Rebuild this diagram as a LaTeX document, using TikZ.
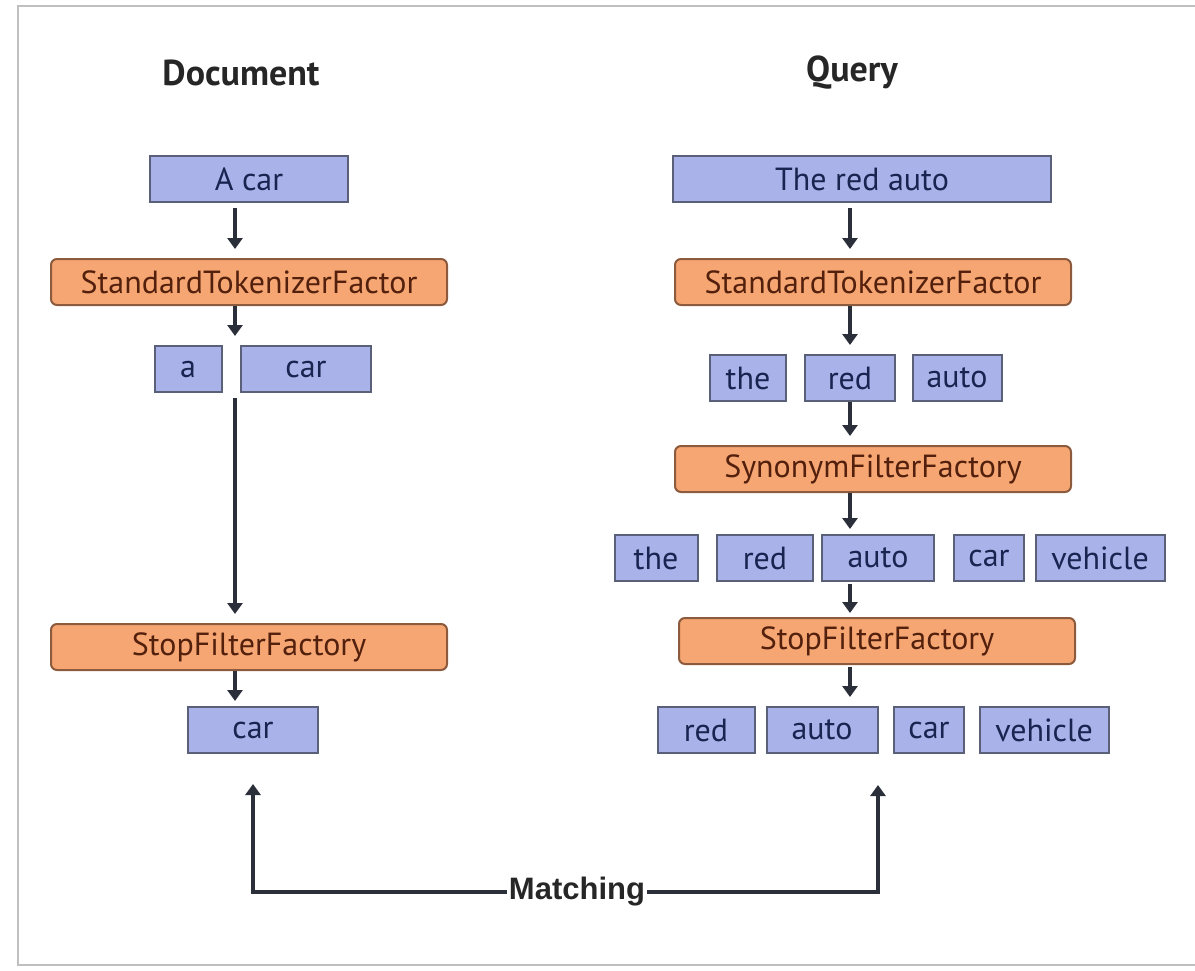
\documentclass[tikz,border=0pt]{standalone}
\usepackage{fontspec}
\setmainfont{PT Sans}
\newfontfamily\arialfont{Liberation Sans}
\usetikzlibrary{positioning,calc,arrows.meta}
\definecolor{tokfill}{HTML}{A9B3EA}
\definecolor{tokdraw}{HTML}{5A6078}
\definecolor{toktext}{HTML}{1A2450}
\definecolor{facfill}{HTML}{F6A672}
\definecolor{facdraw}{HTML}{8C5A3C}
\definecolor{factext}{HTML}{52200C}
\definecolor{arrcol}{HTML}{2B2F3A}

\begin{document}
\begin{tikzpicture}[
  x=1pt, y=-1pt,
  tok/.style={draw=tokdraw, fill=tokfill, line width=2pt, inner sep=0pt,
    minimum height=46pt, text=toktext, font=\fontsize{32}{34}\selectfont},
  fac/.style={draw=facdraw, fill=facfill, rounded corners=6pt, line width=2pt,
    minimum width=396pt, minimum height=46pt, inner sep=0pt, text=factext,
    font=\fontsize{32}{34}\selectfont},
  arr/.style={-{Triangle[length=11pt,width=15pt]}, line width=3.2pt, arrcol,
    shorten <=5pt, shorten >=9pt},
  ttl/.style={font=\bfseries\fontsize{36}{38}\selectfont, text=black!85}
]
\useasboundingbox (0,0) rectangle (1195,970);
\draw[black!25, line width=2pt] (1195,6) -- (18,6) -- (18,965) -- (1195,965);

% ---- Document (left) ----
\node[ttl] (dtitle) at (241,73) {Document};

\node[tok, minimum width=198pt] (dacar) at (249,179) {A car};
\node[fac] (dstd) at (249,282) {StandardTokenizerFactor};
\node[tok, minimum width=67pt] (da) at (188,369) {a};
\node[tok, minimum width=130pt] (dcar) at (306,369) {car};
\node[fac] (dstop) at (249,647) {StopFilterFactory};
\node[tok, minimum width=130pt] (dres) at (253,730) {car};

\coordinate (dx) at (235,0);
\draw[arr] (dacar.south -| dx) -- (dstd.north -| dx);
\draw[arr, shorten <=0pt] (dstd.south -| dx) -- (da.north -| dx);
\draw[arr] (da.south -| dx) -- (dstop.north -| dx);
\draw[arr, shorten <=0pt, shorten >=5pt] (dstop.south -| dx) -- (dres.north -| dx);

% ---- Query (right) ----
\node[ttl] (qtitle) at (852,73) {Query};

\node[tok, minimum width=378pt] (qtext) at (862,179) {The red auto};
\node[fac] (qstd) at (873,282) {StandardTokenizerFactor};
\node[tok, minimum width=76pt] (qthe1) at (748,378) {the};
\node[tok, minimum width=90pt] (qred1) at (850,378) {red};
\node[tok, minimum width=89pt] (qauto1) at (957,378) {auto};
\node[fac] (qsyn) at (873,469) {SynonymFilterFactory};
\node[tok, minimum width=83pt] (qthe2) at (656,558) {the};
\node[tok, minimum width=96pt] (qred2) at (765,558) {red};
\node[tok, minimum width=112pt] (qauto2) at (878,558) {auto};
\node[tok, minimum width=70pt] (qcar2) at (989,558) {car};
\node[tok, minimum width=129pt] (qveh2) at (1100,558) {vehicle};
\node[fac] (qstop) at (877,641) {StopFilterFactory};
\node[tok, minimum width=97pt] (qred3) at (706,730) {red};
\node[tok, minimum width=111pt] (qauto3) at (822,730) {auto};
\node[tok, minimum width=70pt] (qcar3) at (929,730) {car};
\node[tok, minimum width=129pt] (qveh3) at (1044,730) {vehicle};

\coordinate (qx) at (850,0);
\draw[arr] (qtext.south -| qx) -- (qstd.north -| qx);
\draw[arr, shorten <=0pt] (qstd.south -| qx) -- (qred1.north);
\draw[arr, shorten <=0pt] (qred1.south) -- (qsyn.north -| qx);
\draw[arr, shorten <=0pt, shorten >=5pt] (qsyn.south -| qx) -- (qred2.north -| qx);
\draw[arr, shorten <=2pt, shorten >=4pt] (qred2.south -| qx) -- (qstop.north -| qx);
\draw[arr, shorten <=2pt, shorten >=9pt] (qstop.south -| qx) -- (qred3.north -| qx);

% ---- Matching ----
\node[font=\arialfont\bfseries\fontsize{31}{33}\selectfont, text=black!85,
  inner sep=2pt] (match) at (577,892) {Matching};
\coordinate (qm) at (878,785);
\draw[arr, shorten <=0pt, shorten >=30pt] (match.west) -| (dres.south);
\draw[arr, shorten <=0pt, shorten >=0pt] (match.east) -| (qm);
\end{tikzpicture}
\end{document}
